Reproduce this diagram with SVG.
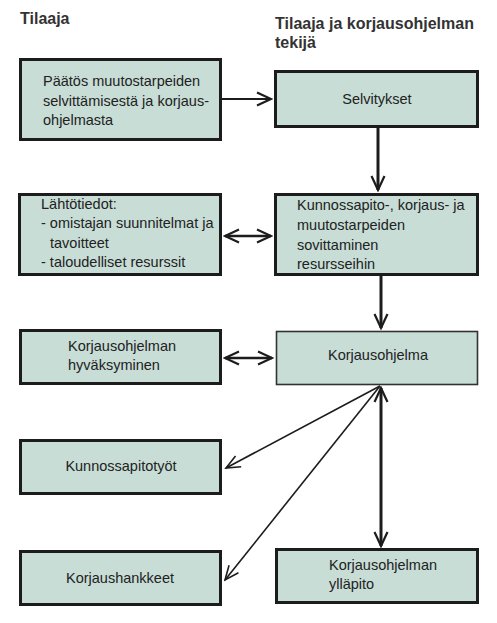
<svg xmlns="http://www.w3.org/2000/svg" width="497" height="623" viewBox="0 0 497 623">
<defs>
<style>
.box{fill:#c7ddd6;stroke:#1c1c1c;stroke-width:3}
.thin{stroke-width:1.6;stroke:#333}
.t{font-family:"Liberation Sans",Arial,sans-serif;font-size:14.5px;fill:#222}
.h{font-family:"Liberation Sans",Arial,sans-serif;font-size:16px;font-weight:bold;fill:#333}
.c{text-anchor:middle}
.ln{fill:none;stroke:#1c1c1c}
</style>
<marker id="ah" markerUnits="userSpaceOnUse" viewBox="-17 -9 19 18" refX="0" refY="0" markerWidth="19" markerHeight="18" orient="auto-start-reverse">
<path d="M-14,-6.5 L0,0 L-14,6.5" fill="none" stroke="#1c1c1c" stroke-width="2.2"/>
</marker>
<marker id="ahs" markerUnits="userSpaceOnUse" viewBox="-17 -9 19 18" refX="0" refY="0" markerWidth="19" markerHeight="18" orient="auto-start-reverse">
<path d="M-14,-6 L0,0 L-14,6" fill="none" stroke="#1c1c1c" stroke-width="1.6"/>
</marker>
</defs>
<rect width="497" height="623" fill="#fff"/>
<text class="h" x="20" y="24">Tilaaja</text>
<text class="h" x="275" y="29">Tilaaja ja korjausohjelman</text>
<text class="h" x="275" y="48">tekijä</text>

<g id="paatos">
<rect class="box" x="20.5" y="59.5" width="200" height="80"/>
<text class="t" x="43" y="86">Päätös muutostarpeiden</text>
<text class="t" x="43" y="106">selvittämisestä ja korjaus-</text>
<text class="t" x="43" y="125">ohjelmasta</text>
</g>
<g id="selvitykset">
<rect class="box" x="275.5" y="71.5" width="202" height="55"/>
<text class="t c" x="377" y="104">Selvitykset</text>
</g>
<g id="lahtotiedot">
<rect class="box" x="19.5" y="194.5" width="201" height="80"/>
<text class="t" x="41" y="209">Lähtötiedot:</text>
<text class="t" x="41" y="228">- omistajan suunnitelmat ja</text>
<text class="t" x="50" y="248">tavoitteet</text>
<text class="t" x="41" y="267">- taloudelliset resurssit</text>
</g>
<g id="sovittaminen">
<rect class="box" x="275.5" y="194.5" width="202" height="80"/>
<text class="t" x="297" y="210">Kunnossapito-, korjaus- ja</text>
<text class="t" x="297" y="230">muutostarpeiden</text>
<text class="t" x="297" y="250">sovittaminen</text>
<text class="t" x="297" y="269">resursseihin</text>
</g>
<g id="hyvaksyminen">
<rect class="box" x="20.5" y="330.5" width="200" height="53"/>
<text class="t" x="68" y="351">Korjausohjelman</text>
<text class="t" x="68" y="370">hyväksyminen</text>
</g>
<g id="korjausohjelma">
<rect class="box thin" x="276.5" y="331.5" width="201" height="53"/>
<text class="t c" x="378" y="360">Korjausohjelma</text>
</g>
<g id="kunnossapitotyot">
<rect class="box" x="20.5" y="440.5" width="200" height="53"/>
<text class="t c" x="121" y="471">Kunnossapitotyöt</text>
</g>
<g id="korjaushankkeet">
<rect class="box" x="20.5" y="551.5" width="200" height="53"/>
<text class="t c" x="120" y="583">Korjaushankkeet</text>
</g>
<g id="yllapito">
<rect class="box" x="276.5" y="549.5" width="201" height="53"/>
<text class="t" x="329" y="570">Korjausohjelman</text>
<text class="t" x="329" y="589">ylläpito</text>
</g>

<g id="connectors">
<path class="ln" d="M222,99 H271" stroke-width="2.2" marker-end="url(#ah)"/>
<path class="ln" d="M378,128 V190" stroke-width="3" marker-end="url(#ah)"/>
<path class="ln" d="M225,236 H271" stroke-width="2.4" marker-start="url(#ah)" marker-end="url(#ah)"/>
<path class="ln" d="M381,276 V328" stroke-width="3" marker-end="url(#ah)"/>
<path class="ln" d="M225,358 H272" stroke-width="2.4" marker-start="url(#ah)" marker-end="url(#ah)"/>
<path class="ln" d="M380,386 L226,468" stroke-width="1.6" marker-end="url(#ahs)"/>
<path class="ln" d="M380,386 L225,580" stroke-width="1.6" marker-end="url(#ahs)"/>
<path class="ln" d="M381,388 V546" stroke-width="3" marker-start="url(#ah)" marker-end="url(#ah)"/>
</g>
</svg>
